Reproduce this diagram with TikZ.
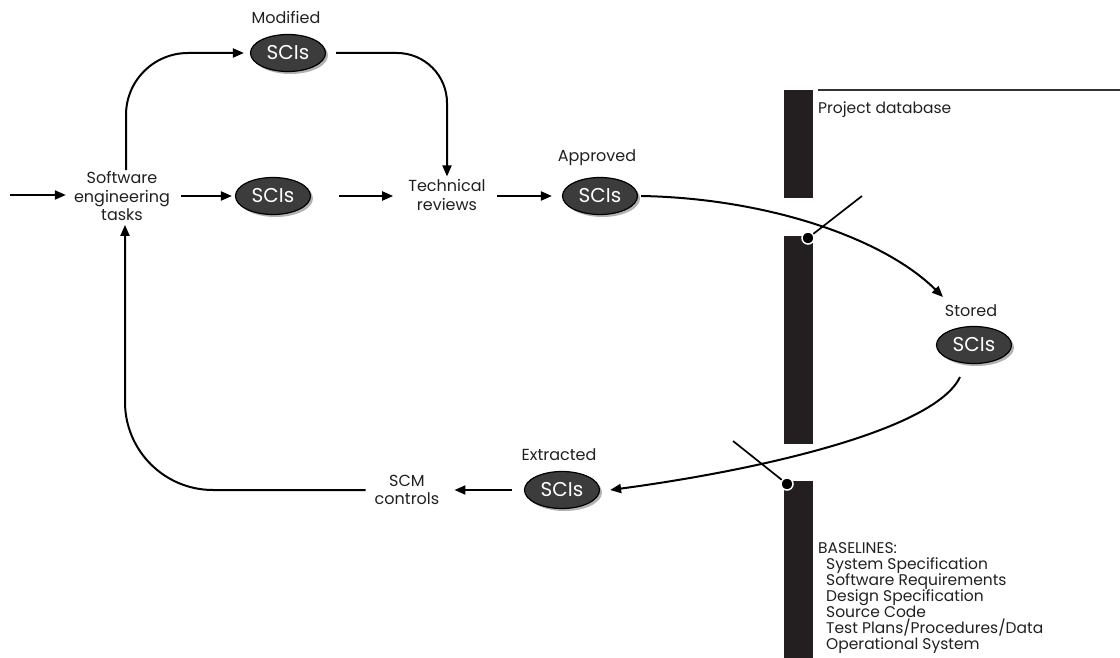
\documentclass[tikz,border=0pt]{standalone}
\usepackage{fontspec}
\setmainfont{Poppins}
\usetikzlibrary{arrows.meta,shapes.geometric,shadows}
\definecolor{barc}{HTML}{231F20}
\definecolor{scifill}{HTML}{3C3C3C}
\definecolor{txt}{HTML}{231F20}
\begin{document}
\begin{tikzpicture}[x=1pt,y=-1pt,
  lbl/.style={font=\fontsize{16}{18.5}\selectfont, align=center, inner sep=1pt, text=txt},
  lst/.style={font=\fontsize{15.5}{16}\selectfont, inner sep=0pt, text=txt, anchor=base west},
  sci/.style={ellipse, draw=black, line width=1.2pt, fill=scifill, minimum width=75pt, minimum height=37pt,
    inner sep=0pt, text=white, font=\fontsize{20}{22}\selectfont,
    drop shadow={shadow xshift=2.5pt, shadow yshift=-2.5pt, fill=black!30, opacity=1}},
  arr/.style={line width=2pt, draw=black, -{Triangle[length=11pt,width=9pt]}},
  bar/.style={fill=barc},
  stick/.style={line width=1.7pt, draw=black},
  knob/.style={circle, fill=black, draw=white, line width=1.5pt, minimum size=12pt, inner sep=0pt}
]
\useasboundingbox (0,0) rectangle (1120,658);

% database bars
\fill[bar] (784,90) rectangle (813,198);
\fill[bar] (784,236) rectangle (813,444);
\fill[bar] (784,481) rectangle (813,658);
\coordinate (lineL) at (818,90);
\coordinate (lineR) at (1120,90);
\draw[line width=1.4pt, draw=black!80] (lineL) -- (lineR);
\node[lst] (pdb) at (818,113.5) {Project database};

% nodes
\coordinate (in) at (10,195);
\node[lbl] (swe) at (122,196) {Software\\engineering\\tasks};
\node[sci] (s1) at (273,196) {SCIs};
\node[lbl] (tr) at (447,195) {Technical\\reviews};
\node[sci] (s2) at (600,196) {SCIs};
\node[lbl] (apl) at (597,158) {Approved};
\node[sci] (sm) at (288,53) {SCIs};
\node[lbl] (mdl) at (286,17) {Modified};
\node[sci] (ss) at (974,345) {SCIs};
\node[lbl] (stl) at (971,311) {Stored};
\node[sci] (se) at (562,490) {SCIs};
\node[lbl] (exl) at (559,455) {Extracted};
\node[lbl] (scm) at (407,490) {SCM\\controls};

% straight arrows
\draw[arr, shorten >=7pt] (in) -- (swe.west |- in);
\draw[arr, shorten <=10pt, shorten >=3pt] (swe.east |- s1) -- (s1.west);
\draw[arr, shorten <=28pt, shorten >=14pt] (s1.east) -- (tr.west |- s1);
\draw[arr, shorten <=10pt, shorten >=10pt] (tr.east |- s2) -- (s2.west);
\draw[arr, shorten <=12pt, shorten >=14pt] (se.west) -- (scm.east |- se);

% curved arrows
\draw[arr, rounded corners=62pt, shorten >=6pt] ([xshift=4pt]swe.north) |- (sm.west);
\draw[arr, rounded corners=50pt, shorten <=10pt, shorten >=2pt] (sm.east) -| (tr.north);
\draw[arr, rounded corners=88pt, shorten <=8pt, shorten >=3pt] (scm.west) -| ([xshift=3pt]swe.south);

\coordinate (stin) at (943,297);
\draw[arr] ([xshift=3pt]s2.east) .. controls (760,198) and (880,235) .. (stin);
\coordinate (sto) at (960,377);
\draw[arr] (sto) .. controls (935,430) and (760,470) .. ([xshift=10pt]se.east);

% knobs
\coordinate (k1end) at (862,196);
\node[knob] (k1) at (808,238) {};
\draw[stick] (k1) -- (k1end);
\coordinate (k2end) at (733,441);
\node[knob] (k2) at (787,484) {};
\draw[stick] (k2) -- (k2end);

% baselines
\node[lst] (bl0) at (818,553) {BASELINES:};
\node[lst] (bl1) at (826,569) {System Specification};
\node[lst] (bl2) at (826,585) {Software Requirements};
\node[lst] (bl3) at (826,601) {Design Specification};
\node[lst] (bl4) at (826,617) {Source Code};
\node[lst] (bl5) at (826,633) {Test Plans/Procedures/Data};
\node[lst] (bl6) at (826,649) {Operational System};
\end{tikzpicture}
\end{document}
